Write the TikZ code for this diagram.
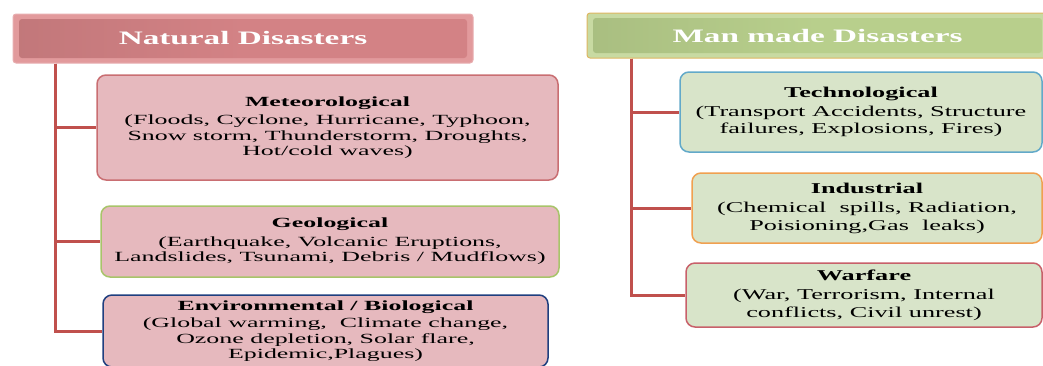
\documentclass[tikz,border=0pt]{standalone}
\usepackage{fontspec}
\newfontfamily\lfont[FakeStretch=1.85]{Liberation Serif}
\newfontfamily\rfont[FakeStretch=1.75]{Liberation Serif}
\definecolor{boxpink}{HTML}{E6B9BE}
\definecolor{hdrpink}{HTML}{D38285}
\definecolor{hdrpinkL}{HTML}{E29A9C}
\definecolor{hdrgreen}{HTML}{B8CF8C}
\definecolor{hdrgreenL}{HTML}{C8DAA2}
\definecolor{boxgreen}{HTML}{D8E4C9}
\definecolor{connred}{HTML}{C0504D}
\definecolor{bmeteo}{HTML}{C96E72}
\definecolor{bgeo}{HTML}{A8C46A}
\definecolor{benv}{HTML}{1F3F7F}
\definecolor{btech}{HTML}{62A9C9}
\definecolor{bind}{HTML}{F0A050}
\definecolor{bwar}{HTML}{C8606A}
\tikzset{
  conn/.style={draw=connred, line width=3pt},
  hdr/.style={rectangle, rounded corners=3pt, inner sep=0pt, line width=1pt,
    text=white, font=\rfont\bfseries\fontsize{19}{22}\selectfont},
  lbox/.style={rectangle, rounded corners=9pt, fill=boxpink, line width=1.5pt,
    align=center, inner sep=0pt, font=\lfont\fontsize{14}{15.5}\selectfont},
  rbox/.style={rectangle, rounded corners=9pt, fill=boxgreen, line width=1.5pt,
    align=center, inner sep=0pt, font=\rfont\fontsize{15}{17.5}\selectfont},
}
\begin{document}
\begin{tikzpicture}[x=1pt,y=-1pt]
\useasboundingbox (0,0) rectangle (1043,365);
\clip (0,0) rectangle (1043,365);
% headers
\node[hdr, fill=hdrpinkL, draw=hdrpinkL!80!white, minimum width=460, minimum height=49] (nat) at (243,38.5) {};
\node[hdr, left color=hdrpink!92!black, right color=hdrpink, middle color=hdrpink, minimum width=448, minimum height=39] (natin) at (243,38.5) {Natural Disasters};
\node[hdr, fill=hdrgreenL, draw=hdrgreenL!60!orange, minimum width=461, minimum height=45] (man) at (817.5,35.5) {};
\node[hdr, left color=hdrgreen!92!black, right color=hdrgreen, middle color=hdrgreen, minimum width=449, minimum height=35] (manin) at (817.5,35.5) {Man made Disasters};
% left boxes
\node[lbox, draw=bmeteo, minimum width=461, minimum height=105] (meteo) at (327.5,127.5)
  {\textbf{Meteorological}\\[3pt](Floods, Cyclone, Hurricane, Typhoon,\\Snow storm, Thunderstorm, Droughts,\\Hot/cold waves)};
\node[lbox, draw=bgeo, minimum width=458, minimum height=71] (geo) at (330,241.5)
  {\textbf{Geological}\\[3pt](Earthquake, Volcanic Eruptions,\\Landslides, Tsunami, Debris / Mudflows)};
\node[lbox, draw=benv, minimum width=445, minimum height=72] (env) at (325.5,331)
  {\textbf{Environmental / Biological}\\[2pt](Global warming,\ \ Climate change,\\Ozone depletion, Solar flare,\\Epidemic,Plagues)};
% right boxes
\node[rbox, draw=btech, minimum width=362, minimum height=80] (tech) at (861,112)
  {\textbf{Technological}\\[1pt](Transport Accidents, Structure\\failures, Explosions, Fires)};
\node[rbox, draw=bind, minimum width=350, minimum height=70] (ind) at (867,208)
  {\textbf{Industrial}\\[2pt](Chemical\ \ spills, Radiation,\\Poisioning,Gas\ \ leaks)};
\node[rbox, draw=bwar, minimum width=356, minimum height=64] (war) at (864,295)
  {\textbf{Warfare}\\[2pt](War, Terrorism, Internal\\conflicts, Civil unrest)};
% connectors
\coordinate (lt) at ([xshift=43pt]nat.south west);
\coordinate (rt) at ([xshift=45pt]man.south west);
\draw[conn] (lt) |- (meteo.west);
\draw[conn] (lt) |- (geo.west);
\draw[conn] (lt) |- (env.west);
\draw[conn] (rt) |- (tech.west);
\draw[conn] (rt) |- (ind.west);
\draw[conn] (rt) |- (war.west);
\end{tikzpicture}
\end{document}
